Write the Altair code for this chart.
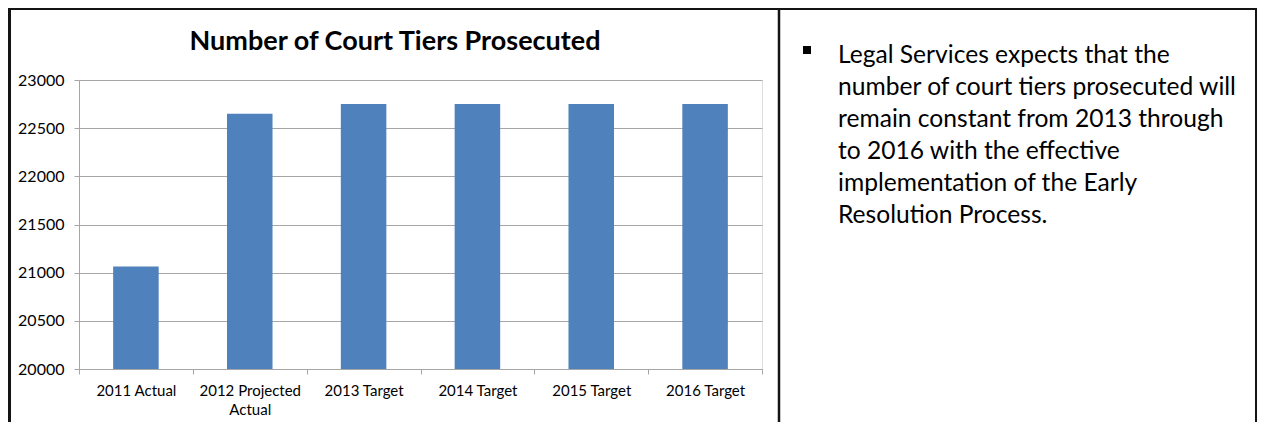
import altair as alt
import pandas as pd

# ---- data ----
categories = ["2011 Actual", "2012 Projected|Actual", "2013 Target",
              "2014 Target", "2015 Target", "2016 Target"]
values = [21065, 22650, 22750, 22750, 22750, 22750]
y_ticks = [20000, 20500, 21000, 21500, 22000, 22500, 23000]
title_text = "Number of Court Tiers Prosecuted"
note_lines = [
    "Legal Services expects that the",
    "number of court tiers prosecuted will",
    "remain constant from 2013 through",
    "to 2016 with the effective",
    "implementation of the Early",
    "Resolution Process.",
]

df = pd.DataFrame({"category": categories, "value": values})

FONT = "Lato"
W, H = 683, 289
PAD = {"left": 71, "top": 72, "right": 495, "bottom": 53}
AXIS_GRAY = "#a6a6a6"
BORDER = "#141414"

bars = alt.Chart(df).mark_bar(
    color="#4F81BD", width=alt.RelativeBandSize(0.4), clip=True
).encode(
    x=alt.X(
        "category:N", sort=categories,
        scale=alt.Scale(paddingInner=0, paddingOuter=0),
        axis=alt.Axis(
            title=None, labelAngle=0, labelExpr="split(datum.label, '|')",
            tickBand="extent", grid=False, domainColor=AXIS_GRAY,
            tickColor=AXIS_GRAY, tickSize=5, labelPadding=9,
            labelFont=FONT, labelFontSize=15, labelColor="black",
            labelLineHeight=19,
        ),
    ),
    y=alt.Y(
        "value:Q",
        scale=alt.Scale(domain=[20000, 23000], zero=False, nice=False),
        axis=alt.Axis(
            title=None, values=y_ticks, format="d", grid=True,
            gridColor=AXIS_GRAY, domainColor=AXIS_GRAY, tickColor=AXIS_GRAY,
            tickSize=5, labelPadding=10, labelFont=FONT, labelFontSize=16,
            labelColor="black",
        ),
    ),
    y2=alt.datum(y_ticks[0]),
)

one = alt.Data(values=[{"k": 1}])


def vline(x, w):
    return alt.Chart(one).mark_rule(color=BORDER, strokeWidth=w).encode(
        x=alt.value(x), y=alt.value(-72), y2=alt.value(H + PAD["bottom"])
    )


top_line = alt.Chart(one).mark_rule(color=BORDER, strokeWidth=2).encode(
    x=alt.value(-71), x2=alt.value(1178), y=alt.value(-71)
)

title = alt.Chart(one).mark_text(
    align="center", baseline="alphabetic", font=FONT, fontSize=27,
    fontWeight="bold", color="black",
).encode(x=alt.value(395 - 79), y=alt.value(50 - 80), text=alt.value(title_text))

note = alt.Chart(one).mark_text(
    align="left", baseline="alphabetic", font=FONT, fontSize=24.6,
    lineHeight=32, color="black",
).encode(x=alt.value(838 - 79), y=alt.value(63 - 80), text=alt.value(note_lines))

bullet = alt.Chart(one).mark_square(
    filled=True, size=64, color="black", opacity=1
).encode(x=alt.value(807 - 79), y=alt.value(50 - 80))

chart = alt.layer(
    bars, top_line, vline(-69.5, 3), vline(700, 2.5), vline(1177, 2),
    title, note, bullet
).properties(
    width=W, height=H,
    autosize=alt.AutoSizeParams(type="none"),
    padding=PAD,
).configure_view(stroke=None).configure(background="white")

chart.save("out.html", embed_options={"renderer": "svg", "actions": False})
